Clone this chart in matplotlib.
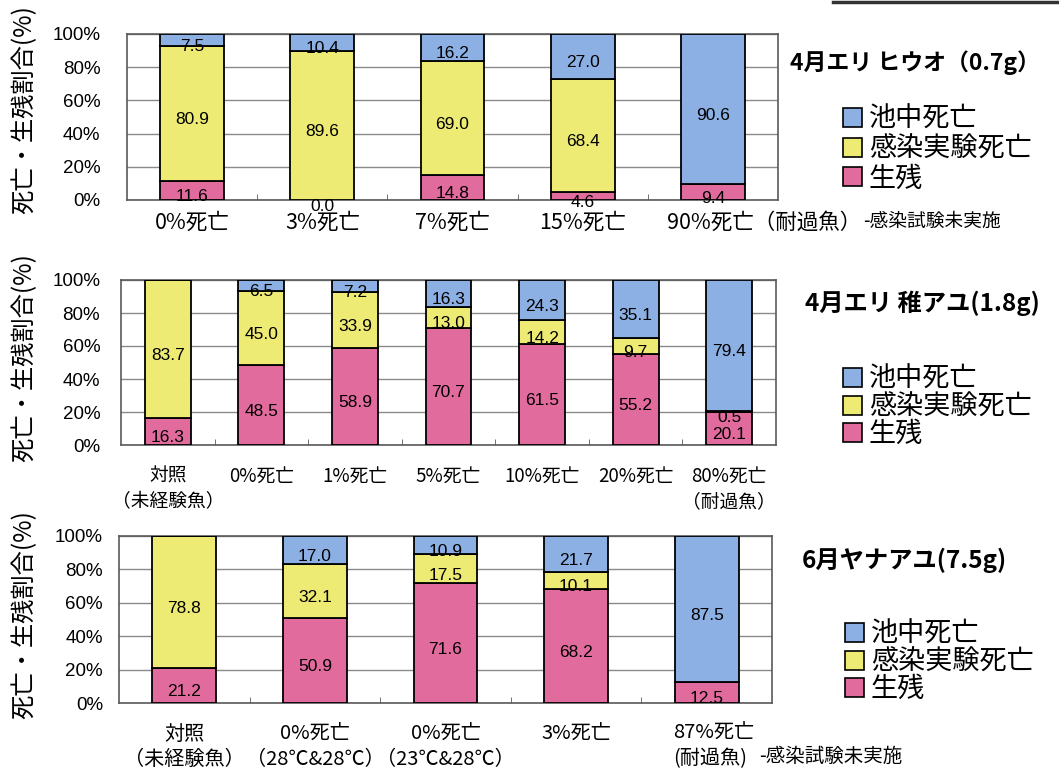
import numpy as np
import matplotlib
matplotlib.use("Agg")
import matplotlib.pyplot as plt
from matplotlib.patches import Patch
from matplotlib.lines import Line2D

plt.rcParams['font.family'] = ['Noto Sans CJK JP', 'DejaVu Sans']

# ---- data ----
series_names = ['生残', '感染実験死亡', '池中死亡']
series_colors = ['#E26B9E', '#EDEB73', '#8CB0E4']
ytick_labels = ['0%', '20%', '40%', '60%', '80%', '100%']
ylabel = '死亡・生残割合(%)'
note = '-感染試験未実施'

p1_title = '4月エリ ヒウオ（0.7g）'
p1_cats = ['0%死亡', '3%死亡', '7%死亡', '15%死亡', '90%死亡（耐過魚）']
p1_alive = [11.6, 0.0, 14.8, 4.6, 9.4]
p1_infect = [80.9, 89.6, 69.0, 68.4, np.nan]
p1_pond = [7.5, 10.4, 16.2, 27.0, 90.6]

p2_title = '4月エリ 稚アユ(1.8g)'
p2_cats = ['対照\n（未経験魚）', '0%死亡', '1%死亡', '5%死亡', '10%死亡', '20%死亡',
           '80%死亡\n（耐過魚）']
p2_alive = [16.3, 48.5, 58.9, 70.7, 61.5, 55.2, 20.1]
p2_infect = [83.7, 45.0, 33.9, 13.0, 14.2, 9.7, 0.5]
p2_pond = [np.nan, 6.5, 7.2, 16.3, 24.3, 35.1, 79.4]

p3_title = '6月ヤナアユ(7.5g)'
p3_cats = ['対照\n（未経験魚）', '0%死亡\n（28℃&28℃）', '0%死亡\n（23℃&28℃）', '3%死亡',
           '87%死亡\n(耐過魚)']
p3_alive = [21.2, 50.9, 71.6, 68.2, 12.5]
p3_infect = [78.8, 32.1, 17.5, 10.1, np.nan]
p3_pond = [np.nan, 17.0, 10.9, 21.7, 87.5]

W, H = 1059, 769
fig = plt.figure(figsize=(W / 100, H / 100), dpi=100)

# layout in pixels: left, top, right, bottom
panels = [
    dict(box=(127, 34, 778, 200), cats=p1_cats, vals=(p1_alive, p1_infect, p1_pond),
         title=p1_title, title_xy=(790, 63), title_fs=16.5, leg_xy=(843, 106),
         leg_sp=0.1, ypad=19, xpad=8.5, ylab_y=110, last='inline', fs=15.5),
    dict(box=(121, 280, 776, 445), cats=p2_cats, vals=(p2_alive, p2_infect, p2_pond),
         title=p2_title, title_xy=(805, 303), title_fs=17.5, leg_xy=(843, 366),
         leg_sp=0.02, ypad=15, xpad=15, ylab_y=358, last=None, fs=13.5),
    dict(box=(119, 536, 772, 703), cats=p3_cats, vals=(p3_alive, p3_infect, p3_pond),
         title=p3_title, title_xy=(802, 560), title_fs=17.5, leg_xy=(845, 621),
         leg_sp=0.02, ypad=11.5, xpad=15, ylab_y=615, last='below', fs=14.5),
]

for p in panels:
    l, t, r, b = p['box']
    ax = fig.add_axes([l / W, 1 - b / H, (r - l) / W, (b - t) / H])
    n = len(p['cats'])
    x = np.arange(n)
    bottom = np.zeros(n)
    for name, col, v in zip(series_names, series_colors, p['vals']):
        v = np.array(v, dtype=float)
        h = np.nan_to_num(v)
        bars = ax.bar(x, h, 0.49, bottom=bottom, color=col, edgecolor='black',
                      linewidth=1.3, zorder=3)
        for rect, val in zip(bars, v):
            if np.isnan(val):
                continue
            cx = rect.get_x() + rect.get_width() / 2
            cy = rect.get_y() + rect.get_height() / 2
            ax.annotate(f'{val:.1f}', (cx, cy), xytext=(0, -4.5),
                        textcoords='offset points', ha='center', va='center',
                        fontsize=12.5, family='Liberation Sans', zorder=4)
        bottom += h

    ax.set_xlim(-0.5, n - 0.5)
    ax.set_ylim(0, 100)
    ax.set_yticks([0, 20, 40, 60, 80, 100])
    ax.set_yticklabels(ytick_labels, fontsize=13.5, family='Liberation Sans')
    ax.tick_params(axis='y', length=0, pad=p['ypad'])
    ax.yaxis.grid(True, color='#8a8a8a', linewidth=1.0)
    ax.set_axisbelow(True)
    for s in ax.spines.values():
        s.set_color('#5a5a5a')
        s.set_linewidth(1.2)

    labels = list(p['cats'])
    if p['last']:
        labels[-1] = ''
    ax.set_xticks(x)
    ax.set_xticklabels(labels, fontsize=p['fs'], linespacing=1.25)
    ax.tick_params(axis='x', length=0, pad=p['xpad'])
    ax.set_xticks(np.arange(n - 1) + 0.5, minor=True)
    ax.tick_params(axis='x', which='minor', direction='in', length=4, color='#5a5a5a')

    if p['last'] == 'inline':
        lab = ax.annotate(p['cats'][-1], xy=(n - 1, 0), xycoords=('data', 'axes fraction'),
                          xytext=(-33, -8.5), textcoords='offset points',
                          ha='left', va='top', fontsize=p['fs'])
        ax.annotate(note, xy=(1, 0.1), xycoords=lab, xytext=(1, 0),
                    textcoords='offset points', ha='left', va='bottom', fontsize=13.5)
    elif p['last'] == 'below':
        lab = ax.annotate(p['cats'][-1], xy=(n - 1, 0), xycoords=('data', 'axes fraction'),
                          xytext=(-24.5, -14.5), textcoords='offset points',
                          ha='left', va='top', fontsize=p['fs'], linespacing=1.25)
        ax.annotate(note, xy=(1, 0.05), xycoords=lab, xytext=(4, 0),
                    textcoords='offset points', ha='left', va='bottom', fontsize=14)

    fig.text(24 / W, 1 - p['ylab_y'] / H, ylabel, rotation=90, ha='center',
             va='center', fontsize=17.5)
    tx, ty = p['title_xy']
    fig.text(tx / W, 1 - ty / H, p['title'], ha='left', va='center',
             fontsize=p['title_fs'], fontweight='bold')

    handles = [Patch(facecolor=c, edgecolor='black', linewidth=1.2)
               for c in series_colors[::-1]]
    lx, ly = p['leg_xy']
    fig.legend(handles, series_names[::-1], loc='upper left',
               bbox_to_anchor=(lx / W, 1 - ly / H), frameon=False, fontsize=19.5,
               handlelength=0.7, handleheight=0.7, handletextpad=0.25,
               labelspacing=p['leg_sp'], borderpad=0, borderaxespad=0)

fig.add_artist(Line2D([833 / W, 1.0], [1 - 1.5 / H, 1 - 1.5 / H], color='#333333',
                      linewidth=2.5))

fig.savefig('out.png', dpi=100)
